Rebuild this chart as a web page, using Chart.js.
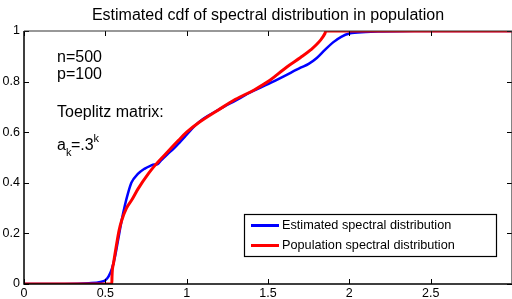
<!DOCTYPE html>
<html>
<head>
<meta charset="utf-8">
<script src="https://cdn.jsdelivr.net/npm/chart.js@4/dist/chart.umd.min.js"></script>
<style>
  html, body { margin: 0; padding: 0; background: #fff; }
  #wrap { width: 512px; height: 299px; }
</style>
</head>
<body>
<div id="wrap"><canvas id="chart" width="512" height="299"></canvas></div>
<script>
// estimated spectral cdf (blue)
const estX = [0, 0.25, 0.40, 0.47, 0.50, 0.52, 0.54, 0.56, 0.58, 0.60, 0.62, 0.64, 0.66, 0.70, 0.74, 0.78, 0.80, 0.82, 0.84, 0.88, 0.92, 0.96, 1.0, 1.05, 1.1, 1.2, 1.3, 1.4, 1.5, 1.6, 1.7, 1.75, 1.8, 1.85, 1.9, 1.95, 2.0, 2.1, 2.2, 2.4, 3.0];
const estY = [0, 0, 0.003, 0.008, 0.015, 0.03, 0.06, 0.11, 0.18, 0.25, 0.31, 0.36, 0.40, 0.435, 0.455, 0.468, 0.472, 0.473, 0.487, 0.512, 0.535, 0.562, 0.59, 0.625, 0.652, 0.69, 0.725, 0.76, 0.79, 0.822, 0.855, 0.87, 0.893, 0.925, 0.955, 0.977, 0.99, 0.996, 0.998, 1.0, 1.0];

// population spectral cdf (red)
const popX = [0, 0.54, 0.541, 0.55, 0.57, 0.585, 0.60, 0.63, 0.665, 0.70, 0.768, 0.80, 0.872, 0.95, 1.0, 1.073, 1.195, 1.3, 1.415, 1.5, 1.616, 1.7, 1.762, 1.823, 1.85, 1.856, 3.0];
const popY = [0, 0, 0.03, 0.08, 0.16, 0.213, 0.25, 0.30, 0.335, 0.375, 0.439, 0.465, 0.515, 0.568, 0.60, 0.637, 0.688, 0.73, 0.767, 0.80, 0.858, 0.895, 0.925, 0.964, 0.99, 1.0, 1.0];

const xTicks = [0, 0.5, 1, 1.5, 2, 2.5];
const yTicks = [0, 0.2, 0.4, 0.6, 0.8, 1];
const labels = ['Estimated spectral distribution', 'Population spectral distribution'];
const title = 'Estimated cdf of spectral distribution in population';
const notes = ['n=500', 'p=100', 'Toeplitz matrix:'];

const FONT = "'Liberation Sans', Arial, Helvetica, sans-serif";

function pts(xs, ys) {
  return xs.map((x, i) => ({ x: x, y: ys[i] }));
}

const framePlugin = {
  id: 'frame',
  afterDraw(chart) {
    const ctx = chart.ctx;
    const a = chart.chartArea;
    const xs = chart.scales.x, ys = chart.scales.y;
    ctx.save();

    // title, centred over the axes
    ctx.fillStyle = '#000';
    ctx.font = '16px ' + FONT;
    ctx.textAlign = 'center';
    ctx.textBaseline = 'alphabetic';
    ctx.fillText(title, (a.left + a.right) / 2, 20);

    // inward ticks
    ctx.strokeStyle = '#000';
    ctx.lineWidth = 1;
    ctx.beginPath();
    xTicks.forEach(v => {
      const px = Math.round(xs.getPixelForValue(v)) + 0.5;
      ctx.moveTo(px, a.bottom); ctx.lineTo(px, a.bottom - 5);
      ctx.moveTo(px, a.top); ctx.lineTo(px, a.top + 5);
    });
    yTicks.forEach(v => {
      const py = Math.round(ys.getPixelForValue(v)) + 0.5;
      ctx.moveTo(a.left, py); ctx.lineTo(a.left + 5, py);
      ctx.moveTo(a.right, py); ctx.lineTo(a.right - 5, py);
    });
    ctx.stroke();

    // box
    ctx.lineWidth = 1.5;
    ctx.strokeStyle = '#000';
    ctx.beginPath();
    ctx.moveTo(a.left, a.top);
    ctx.lineTo(a.left, a.bottom);
    ctx.lineTo(a.right, a.bottom);
    ctx.stroke();
    ctx.strokeStyle = '#333';
    ctx.lineWidth = 1.2;
    ctx.beginPath();
    ctx.moveTo(a.left, a.top);
    ctx.lineTo(a.right, a.top);
    ctx.lineTo(a.right, a.bottom);
    ctx.stroke();

    // annotation text
    ctx.fillStyle = '#000';
    ctx.textAlign = 'left';
    ctx.font = '16px ' + FONT;
    ctx.fillText(notes[0], 57, 61.5);
    ctx.fillText(notes[1], 57, 79);
    ctx.fillText(notes[2], 57, 116.5);
    let x = 57;
    ctx.fillText('a', x, 149.5);
    x += ctx.measureText('a').width;
    ctx.font = '11px ' + FONT;
    ctx.fillText('k', x, 156);
    x += ctx.measureText('k').width - 0.5;
    ctx.font = '16px ' + FONT;
    ctx.fillText('=.3', x, 149.5);
    x += ctx.measureText('=.3').width;
    ctx.font = '11px ' + FONT;
    ctx.fillText('k', x, 142);

    // legend box
    ctx.fillStyle = '#fff';
    ctx.fillRect(244.5, 214.5, 252, 42);
    ctx.strokeStyle = '#000';
    ctx.lineWidth = 1.2;
    ctx.strokeRect(244.5, 214.5, 252, 42);
    const order = [1, 0];
    order.forEach((di, i) => {
      const ds = chart.data.datasets[di];
      const ly = 225.5 + i * 20;
      ctx.strokeStyle = ds.borderColor;
      ctx.lineWidth = 3;
      ctx.beginPath();
      ctx.moveTo(251, ly); ctx.lineTo(279, ly);
      ctx.stroke();
      ctx.fillStyle = '#000';
      ctx.font = '12.7px ' + FONT;
      ctx.textBaseline = 'middle';
      ctx.fillText(ds.label, 282, ly);
    });
    ctx.restore();
  }
};

const chart = new Chart(document.getElementById('chart').getContext('2d'), {
  type: 'line',
  data: {
    datasets: [
      {
        label: labels[1],
        data: pts(popX, popY),
        borderColor: '#ff0000',
        borderWidth: 3,
        pointRadius: 0,
        cubicInterpolationMode: 'monotone',
        fill: false
      },
      {
        label: labels[0],
        data: pts(estX, estY),
        borderColor: '#0000ff',
        borderWidth: 2.5,
        pointRadius: 0,
        cubicInterpolationMode: 'monotone',
        fill: false
      }
    ]
  },
  options: {
    responsive: false,
    animation: false,
    layout: { padding: { left: 0, right: -4, top: 31, bottom: 0 } },
    plugins: {
      legend: { display: false },
      tooltip: { enabled: false },
      title: { display: false }
    },
    scales: {
      x: {
        type: 'linear',
        min: 0,
        max: 3,
        grid: { display: false, drawTicks: false },
        border: { display: false },
        afterBuildTicks: s => { s.ticks = xTicks.map(v => ({ value: v })); },
        afterFit: s => { s.height = 15; },
        ticks: {
          padding: 2,
          color: '#000',
          maxRotation: 0,
          font: { family: FONT, size: 12.5 },
          callback: v => String(v)
        }
      },
      y: {
        min: 0,
        max: 1,
        grid: { display: false, drawTicks: false },
        border: { display: false },
        afterBuildTicks: s => { s.ticks = yTicks.map(v => ({ value: v })); },
        afterFit: s => { s.width = 24; },
        ticks: {
          padding: 4,
          color: '#000',
          font: { family: FONT, size: 12.5 },
          callback: v => String(v)
        }
      }
    }
  },
  plugins: [framePlugin]
});
</script>
</body>
</html>
